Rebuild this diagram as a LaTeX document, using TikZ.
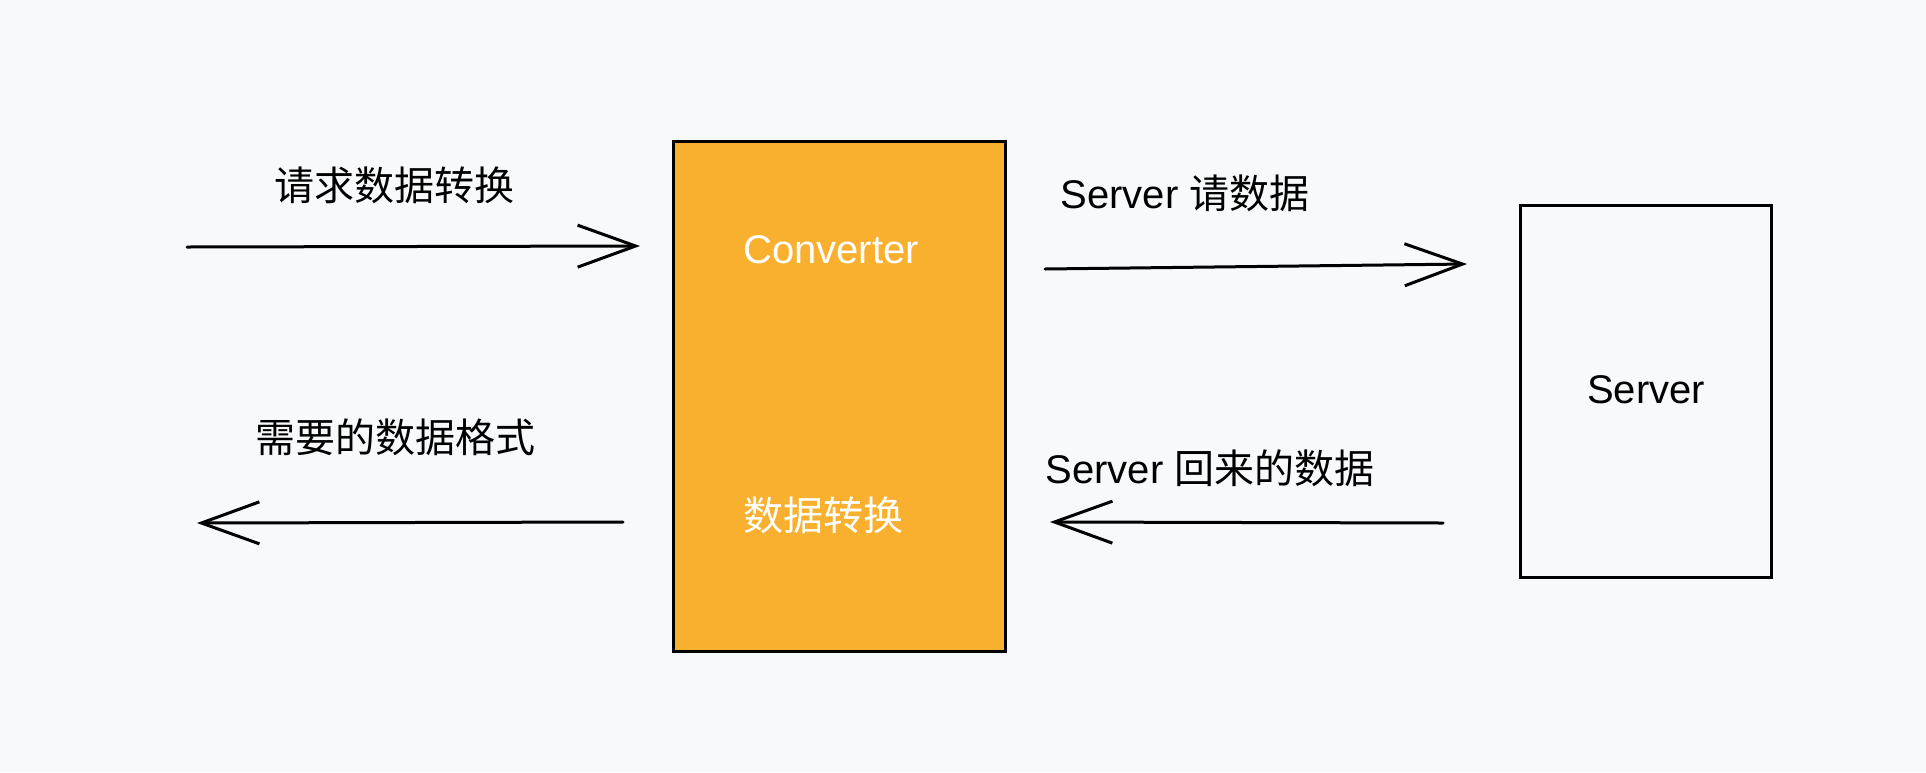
\documentclass[tikz,border=0pt]{standalone}
\usepackage{fontspec}
\setmainfont{Liberation Sans}
\newfontfamily\cjk{Noto Sans CJK SC}
\usetikzlibrary{arrows.meta}
\definecolor{bg}{HTML}{F8F9FA}
\definecolor{conv}{HTML}{F8B02E}
\tikzset{
  box/.style={draw=black, line width=3pt, minimum width=332pt, minimum height=510pt, inner sep=0pt},
  srvbox/.style={draw=black, line width=3pt, minimum width=251pt, minimum height=372pt, inner sep=0pt},
  lbl/.style={font=\fontsize{40pt}{44pt}\selectfont\cjk, inner sep=0pt, text=black},
  latinlbl/.style={font=\fontsize{40pt}{44pt}\selectfont, inner sep=0pt},
  flow/.style={line width=3pt, line cap=round, -{Straight Barb[length=58pt, width=42pt, line width=3pt]}}
}
\begin{document}
\begin{tikzpicture}[x=1pt, y=-1pt]
\fill[bg] (0,0) rectangle (1926,772);
\useasboundingbox (0,0) rectangle (1926,772);

\node[box, fill=conv] (conv) at (839,396) {};
\node[srvbox] (srv) at (1645.5,391) {};

\node[latinlbl, text=white] (convt) at (831,250) {Converter};
\node[lbl, text=white] (convz) at (823,515) {数据转换};
\node[latinlbl] (srvt) at (1646,390) {Server};

\coordinate (a1s) at (187,247);
\coordinate (a1e) at (640,246);
\coordinate (a2s) at (1045,269);
\coordinate (a2e) at (1467,264);
\coordinate (a3s) at (623,522);
\coordinate (a3e) at (197,523);
\coordinate (a4s) at (1443,523);
\coordinate (a4e) at (1050,522);

\draw[flow] (a1s) -- (a1e);
\draw[flow] (a2s) -- (a2e);
\draw[flow] (a3s) -- (a3e);
\draw[flow] (a4s) -- (a4e);

\node[lbl] (l1) at (394,185) {请求数据转换};
\node[lbl] (l2) at (1185,193) {\fontspec{Liberation Sans}Server {\cjk 请数据}};
\node[lbl] (l3) at (395,437) {需要的数据格式};
\node[lbl] (l4) at (1210,468) {\fontspec{Liberation Sans}Server {\cjk 回来的数据}};
\end{tikzpicture}
\end{document}
